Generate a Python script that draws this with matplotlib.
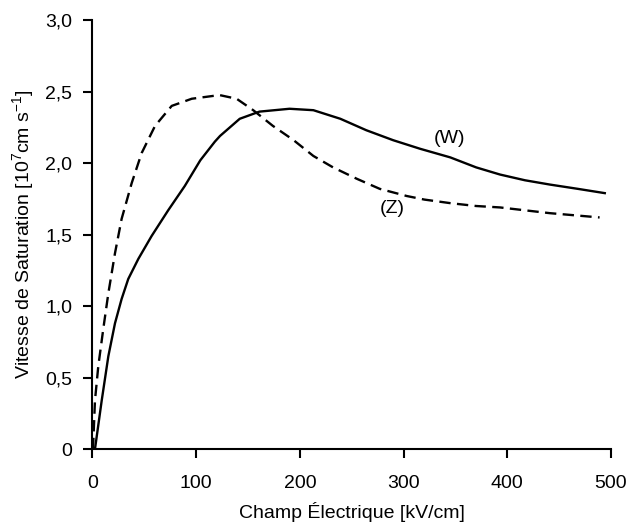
import matplotlib
matplotlib.use("Agg")
import matplotlib.pyplot as plt

plt.rcParams['font.family'] = ['Liberation Sans', 'DejaVu Sans']
plt.rcParams['mathtext.fontset'] = 'custom'
plt.rcParams['mathtext.rm'] = 'Liberation Sans'
plt.rcParams['mathtext.it'] = 'Liberation Sans'

# champ electrique (kV/cm) et vitesse (1e7 cm/s)
w_field = [2.4, 8.9, 15.3, 21.7, 28.1, 34.5, 44.2, 57, 73, 89, 104, 118, 123, 142, 161,
           190, 213, 239, 264, 290, 316, 345, 370, 393, 417, 441, 468, 494]
w_speed = [0.0, 0.34, 0.65, 0.88, 1.05, 1.19, 1.33, 1.49, 1.67, 1.84, 2.02, 2.15, 2.19, 2.31, 2.36,
           2.38, 2.37, 2.31, 2.23, 2.16, 2.10, 2.04, 1.97, 1.92, 1.88, 1.85, 1.82, 1.79]

z_field = [0.5, 2.4, 5.6, 10.4, 15.3, 21.7, 28.1, 37.8, 47.4, 60.3, 76.4, 95.7, 116.5, 123, 139,
           155, 174, 194, 213, 232, 255, 277, 303, 320, 345, 370, 393, 417, 441, 465, 489]
z_speed = [0.0, 0.34, 0.58, 0.84, 1.09, 1.37, 1.61, 1.86, 2.07, 2.26, 2.40, 2.45, 2.47, 2.475, 2.45,
           2.37, 2.26, 2.16, 2.05, 1.97, 1.89, 1.82, 1.77, 1.745, 1.72, 1.70, 1.69, 1.67, 1.65, 1.635, 1.62]

y_ticks = [0, 0.5, 1.0, 1.5, 2.0, 2.5, 3.0]
y_tick_labels = ['0', '0,5', '1,0', '1,5', '2,0', '2,5', '3,0']
x_ticks = [0, 100, 200, 300, 400, 500]

fig = plt.figure(figsize=(6.27, 5.29), dpi=100)
ax = fig.add_axes([0.1475, 0.151, 0.827, 0.811])

ax.plot(w_field, w_speed, color='black', lw=1.7)
ax.plot(z_field, z_speed, color='black', lw=1.7, dashes=(4.8, 2.7))

ax.text(344, 2.17, '(W)', fontsize=14, ha='center', va='center')
ax.text(289.5, 1.68, '(Z)', fontsize=14, ha='center', va='center')

ax.set_xlim(0, 500)
ax.set_ylim(0, 3.0)
ax.set_xticks(x_ticks)
ax.set_yticks(y_ticks)
ax.set_yticklabels(y_tick_labels)
ax.tick_params(labelsize=14, direction='out', length=6.5, width=1.5)
ax.tick_params(axis='x', pad=12)
ax.tick_params(axis='y', pad=8)

for side in ['top', 'right']:
    ax.spines[side].set_visible(False)
for side in ['left', 'bottom']:
    ax.spines[side].set_linewidth(1.5)

ax.set_xlabel('Champ Électrique [kV/cm]', fontsize=14, labelpad=7)
ax.set_ylabel('Vitesse de Saturation [10$^{7}$cm s$^{-1}$]', fontsize=14, labelpad=7)

fig.savefig('out.png', dpi=100)
